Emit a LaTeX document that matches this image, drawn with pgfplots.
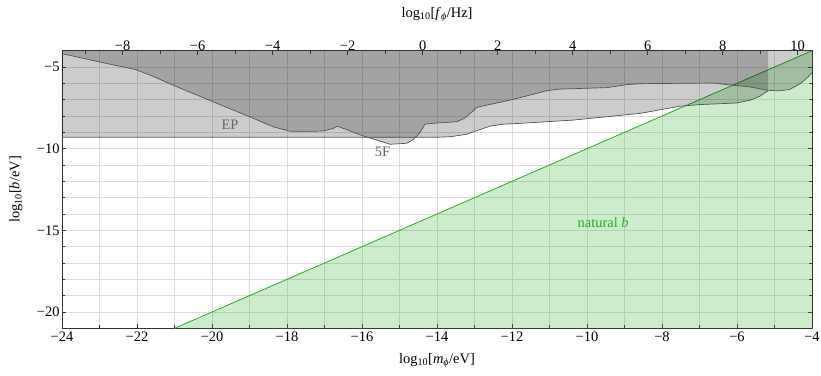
\documentclass[border=0pt]{standalone}
\usepackage{fontspec}
\setmainfont{Liberation Serif}
\usepackage{pgfplots}
\pgfplotsset{compat=1.18}
\definecolor{gridc}{gray}{0.86}
\definecolor{greenl}{rgb}{0.13,0.69,0.13}
\definecolor{greenf}{rgb}{0.2,0.7,0.2}
\definecolor{bnd}{gray}{0.33}
\definecolor{framec}{gray}{0.2}
\definecolor{labgray}{gray}{0.4}
\newcommand{\fs}{\fontsize{14.5}{16.5}\selectfont}
\begin{document}
\begin{tikzpicture}
\pgfplotsset{
 every axis/.append style={font=\fs},
 tick label style={font=\fs},
 label style={font=\fs},
}
\begin{axis}[
 scale only axis, width=750bp, height=277.6bp,
 xmin=-24, xmax=-4, ymin=-21, ymax=-4,
 xtick={-24,-22,...,-4},
 xticklabels={−24,−22,−20,−18,−16,−14,−12,−10,−8,−6,−4},
 minor xtick={-23,-21,...,-5},
 ytick={-20,-15,-10,-5},
 yticklabels={−20,−15,−10,−5},
 minor ytick={-21,-20,...,-4},
 xtick pos=bottom, ytick pos=both,
 tick align=inside,
 grid=both,
 major grid style={gridc, line width=0.9bp},
 minor grid style={gridc, line width=0.9bp},
 major tick length=4bp, minor tick length=3bp,
 every tick/.style={framec, line width=0.6bp},
 axis line style={framec, line width=0.9bp},
 xticklabel style={yshift=-0.5bp},
 yticklabel style={xshift=1bp},
 xlabel={log\textsubscript{10}[\textit{m}\textsubscript{\textit{ϕ}}/eV]},
 ylabel={log\textsubscript{10}[\textit{b}/eV]},
 xlabel style={at={([yshift=-32bp]axis description cs:0.5,0)}, anchor=center},
 ylabel style={at={([xshift=-46bp]axis description cs:0,0.5)}, anchor=center},
]
% natural b region
\addplot[fill=greenf, fill opacity=0.25, draw=none] coordinates {(-21,-21) (-4,-4) (-4,-21)} -- cycle;
\addplot[greenl, line width=0.8bp] coordinates {(-21,-21) (-4,-4)};
% EP region
\addplot[fill=black, fill opacity=0.2, draw=none] coordinates {
 (-24,-4) (-24,-9.3) (-14.0,-9.3) (-13.65,-9.27) (-13.21,-9.12) (-12.94,-8.9)
 (-12.59,-8.62) (-12.23,-8.5) (-11.79,-8.45) (-11.08,-8.35) (-10.37,-8.25)
 (-8.59,-7.84) (-7.52,-7.4) (-6.99,-7.3) (-6.0,-7.2) (-5.65,-7.03) (-5.4,-6.8)
 (-5.17,-6.45) (-5.17,-4)} -- cycle;
\addplot[bnd, line width=0.7bp] coordinates {
 (-24,-9.3) (-14.0,-9.3) (-13.65,-9.27) (-13.21,-9.12) (-12.94,-8.9)
 (-12.59,-8.62) (-12.23,-8.5) (-11.79,-8.45) (-11.08,-8.35) (-10.37,-8.25)
 (-8.59,-7.84) (-7.52,-7.4) (-6.99,-7.3) (-6.0,-7.2) (-5.65,-7.03) (-5.4,-6.8)
 (-5.17,-6.45)};
% 5F region
\addplot[fill=black, fill opacity=0.2, draw=none] coordinates {
 (-24,-4) (-24,-4.18) (-23,-4.69) (-22.03,-5.16) (-21.57,-5.57) (-21.03,-6.12)
 (-19.97,-7.13) (-18.99,-8.05) (-18.37,-8.66) (-17.92,-8.93) (-17.5,-8.94)
 (-17.03,-8.92) (-16.77,-8.76) (-16.66,-8.62) (-15.97,-9.22) (-15.25,-9.73)
 (-14.81,-9.67) (-14.63,-9.45) (-14.45,-9.0) (-14.32,-8.49) (-14.0,-8.43)
 (-13.47,-8.35) (-13.25,-8.12) (-12.94,-7.48) (-12.77,-7.38) (-12.5,-7.25)
 (-12.0,-7.0) (-11.07,-6.45) (-10.72,-6.35) (-10.0,-6.3) (-9.47,-6.26)
 (-8.94,-6.08) (-8.59,-6.02) (-6.63,-5.98) (-6.19,-6.1) (-5.7,-6.2)
 (-5.2,-6.42) (-4.9,-6.46) (-4.6,-6.38) (-4.3,-6.0) (-4.1,-5.6) (-4,-5.35)
 (-4,-4)} -- cycle;
\addplot[bnd, line width=0.7bp] coordinates {
 (-24,-4.18) (-23,-4.69) (-22.03,-5.16) (-21.57,-5.57) (-21.03,-6.12)
 (-19.97,-7.13) (-18.99,-8.05) (-18.37,-8.66) (-17.92,-8.93) (-17.5,-8.94)
 (-17.03,-8.92) (-16.77,-8.76) (-16.66,-8.62) (-15.97,-9.22) (-15.25,-9.73)
 (-14.81,-9.67) (-14.63,-9.45) (-14.45,-9.0) (-14.32,-8.49) (-14.0,-8.43)
 (-13.47,-8.35) (-13.25,-8.12) (-12.94,-7.48) (-12.77,-7.38) (-12.5,-7.25)
 (-12.0,-7.0) (-11.07,-6.45) (-10.72,-6.35) (-10.0,-6.3) (-9.47,-6.26)
 (-8.94,-6.08) (-8.59,-6.02) (-6.63,-5.98) (-6.19,-6.1) (-5.7,-6.2)
 (-5.2,-6.42) (-4.9,-6.46) (-4.6,-6.38) (-4.3,-6.0) (-4.1,-5.6) (-4,-5.35)};
\node[labgray, font=\fs] at (axis cs:-19.52,-8.51) {EP};
\node[labgray, font=\fs] at (axis cs:-15.45,-10.2) {5F};
\node[greenl, font=\fs] at (axis cs:-9.57,-14.55) {natural \textit{b}};
\end{axis}
\begin{axis}[
 scale only axis, width=750bp, height=277.6bp,
 xmin=-9.61653, xmax=10.38347, ymin=-21, ymax=-4,
 axis x line*=top, axis y line=none,
 xtick={-8,-6,...,10},
 xticklabels={−8,−6,−4,−2,0,2,4,6,8,10},
 minor xtick={-9,-7,...,9},
 tick align=inside,
 major tick length=4bp, minor tick length=3bp,
 every tick/.style={framec, line width=0.6bp},
 axis line style={framec, line width=0.9bp},
 xticklabel style={yshift=-3bp},
 xlabel={log\textsubscript{10}[\textit{f}\textsubscript{\textit{ϕ}}/Hz]},
 xlabel style={at={([yshift=36bp]axis description cs:0.5,1)}, anchor=center},
]
\end{axis}
\pgfresetboundingbox
\path ([xshift=-62bp,yshift=-47.7bp]current axis.south west) rectangle ([xshift=9bp,yshift=50.7bp]current axis.north east);
\end{tikzpicture}
\end{document}
